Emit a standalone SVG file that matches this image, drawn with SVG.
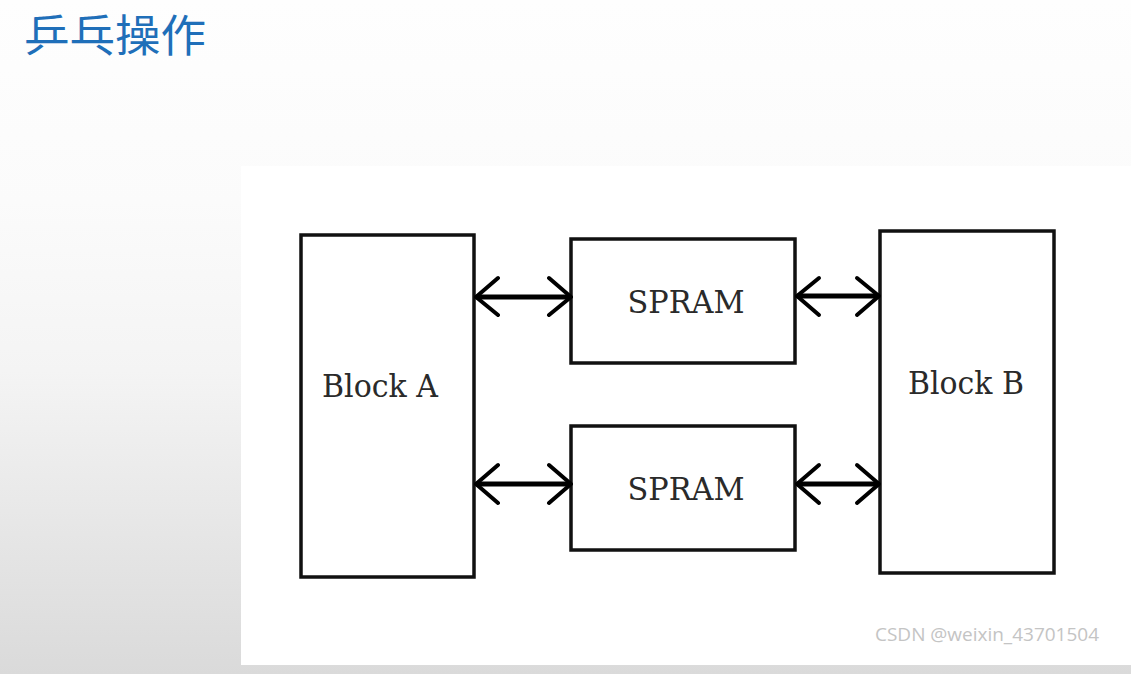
<svg xmlns="http://www.w3.org/2000/svg" width="1131" height="674" viewBox="0 0 1131 674">
<defs>
<linearGradient id="bg" x1="0" y1="0" x2="0" y2="1">
<stop offset="0" stop-color="#fefefe"/>
<stop offset="0.3" stop-color="#fbfbfb"/>
<stop offset="0.55" stop-color="#f4f4f4"/>
<stop offset="1" stop-color="#dadada"/>
</linearGradient>
<style>
.box{fill:#fff;stroke:#111;stroke-width:3.5}
.lbl{font-family:"DejaVu Serif","Liberation Serif",serif;font-size:32px;fill:#2a2a2a;text-anchor:middle}
.shaft{stroke:#000;stroke-width:5;fill:none}
.head{stroke:#000;stroke-width:4;fill:none;stroke-linecap:round;stroke-linejoin:round}
</style>
</defs>
<rect x="0" y="0" width="1131" height="674" fill="url(#bg)"/>
<rect x="241" y="166" width="890" height="499" fill="#ffffff"/>
<text x="24" y="52" font-family="'Noto Sans CJK SC',sans-serif" font-size="44" fill="#1f6fb9" textLength="182" lengthAdjust="spacingAndGlyphs">乒乓操作</text>
<g id="blockA"><rect class="box" x="301" y="235" width="173" height="342"/><text class="lbl" x="380" y="397" textLength="116" lengthAdjust="spacingAndGlyphs">Block A</text></g>
<g id="spram1"><rect class="box" x="571" y="239" width="224" height="124"/><text class="lbl" x="686" y="313" textLength="117" lengthAdjust="spacingAndGlyphs">SPRAM</text></g>
<g id="spram2"><rect class="box" x="571" y="426" width="224" height="124"/><text class="lbl" x="686" y="500" textLength="117" lengthAdjust="spacingAndGlyphs">SPRAM</text></g>
<g id="blockB"><rect class="box" x="880" y="231" width="174" height="342"/><text class="lbl" x="966" y="394" textLength="116" lengthAdjust="spacingAndGlyphs">Block B</text></g>
<g id="connectors">
<path class="shaft" d="M476 297H570"/>
<path class="head" d="M498 278L476 297L498 315M549 278L571 297L549 315"/>
<path class="shaft" d="M797 296H879"/>
<path class="head" d="M819 278L797 296L819 315M857 278L879 296L857 315"/>
<path class="shaft" d="M476 484H570"/>
<path class="head" d="M498 465L476 484L498 503M549 465L571 484L549 503"/>
<path class="shaft" d="M797 484H879"/>
<path class="head" d="M819 465L797 484L819 503M857 465L879 484L857 503"/>
</g>
<text x="875" y="641" font-family="'Open Sans','DejaVu Sans',sans-serif" font-size="18" fill="#c4c4c4" textLength="224" lengthAdjust="spacingAndGlyphs">CSDN @weixin_43701504</text>
</svg>
